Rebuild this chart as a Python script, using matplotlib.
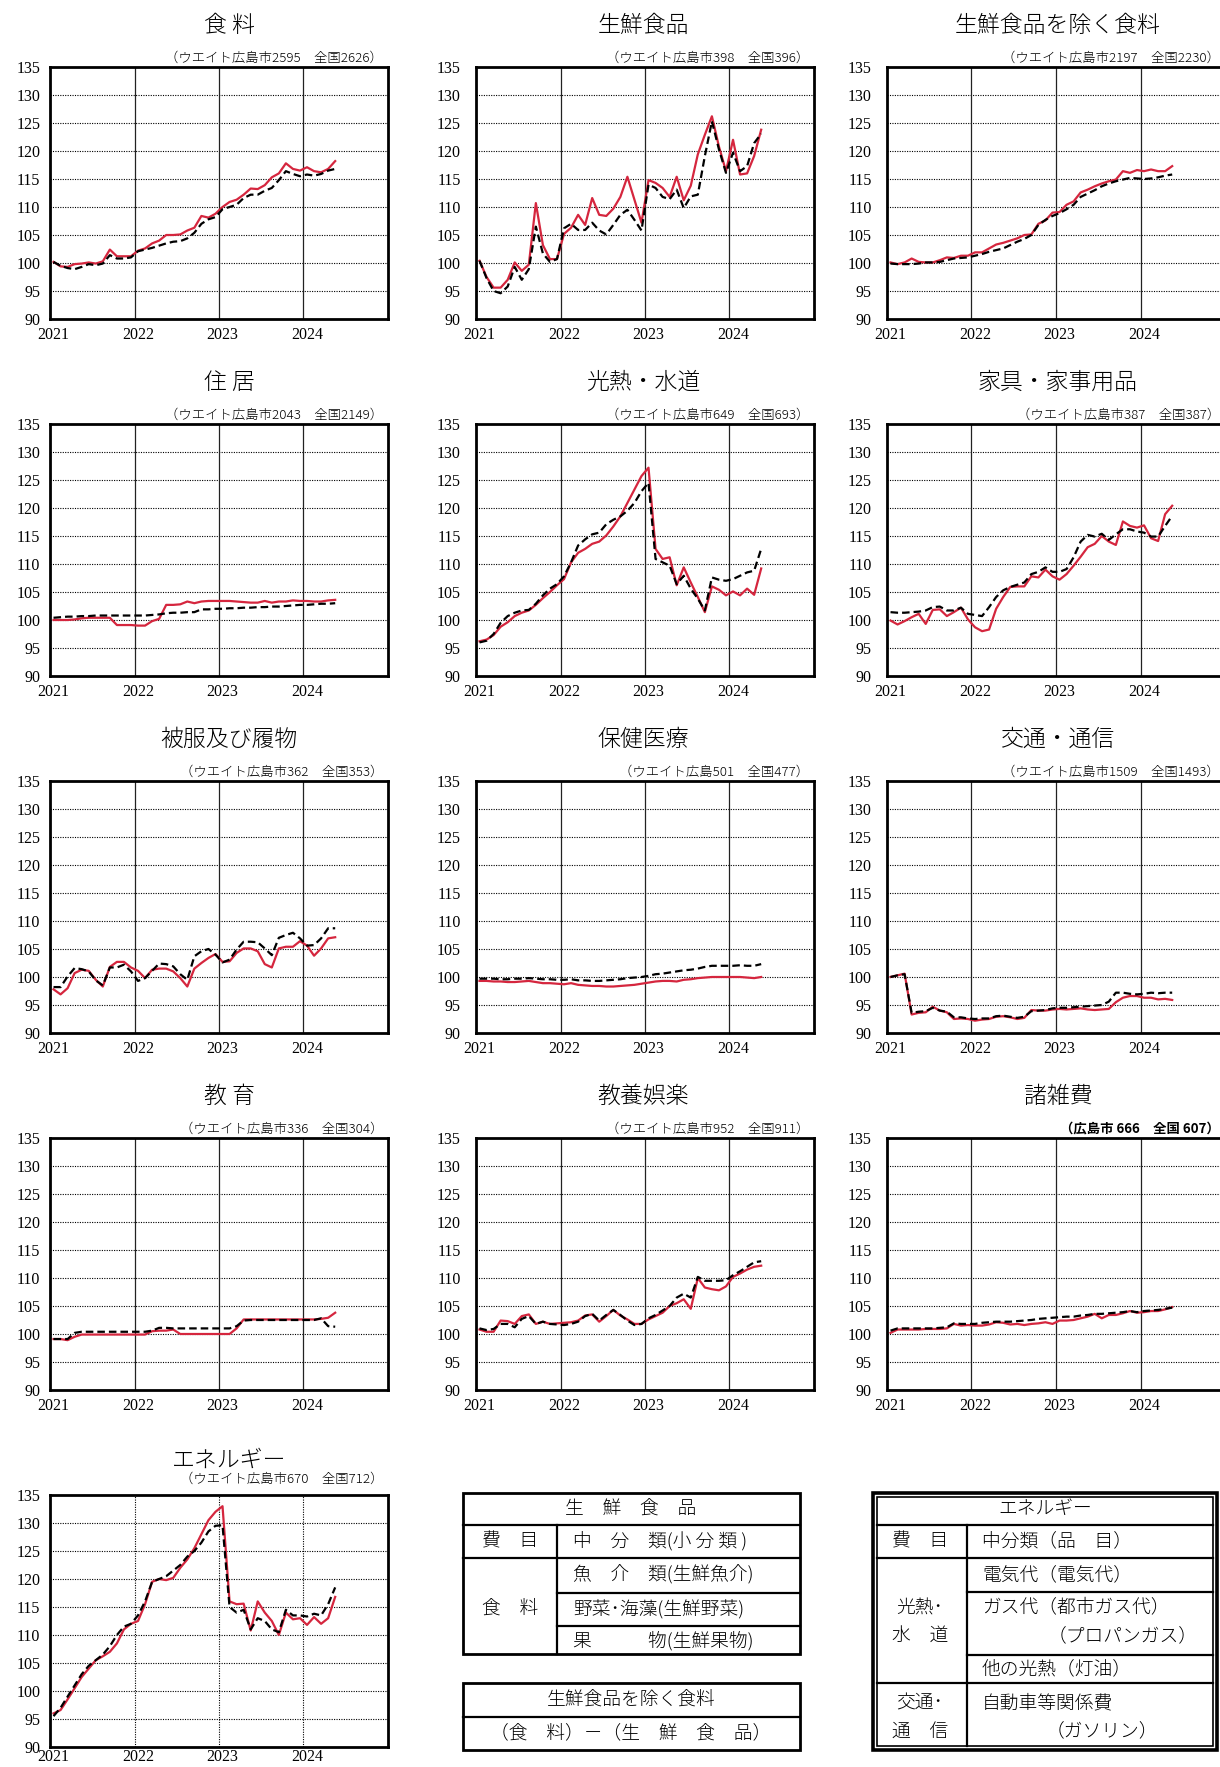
import matplotlib.pyplot as plt
from matplotlib.patches import Rectangle

# 2021年1月〜2024年5月 (41か月), 赤=広島市, 黒破線=全国
shokuryo_h = [100.2, 99.4, 99.3, 99.8, 99.9, 100.1, 99.9, 100.3, 102.4, 101.2,
              101.2, 101.2, 102.2, 102.6, 103.5, 104.0, 105.0, 105.0, 105.1, 105.8,
              106.3, 108.4, 108.1, 108.8, 110.0, 110.9, 111.3, 112.2, 113.3, 113.2,
              113.9, 115.3, 116.0, 117.8, 116.8, 116.5, 117.1, 116.4, 116.2, 116.8, 118.2]
shokuryo_z = [100.2, 99.5, 99.1, 98.9, 99.3, 99.8, 99.6, 99.9, 101.4, 100.8,
              100.8, 101.0, 102.1, 102.4, 102.7, 103.1, 103.5, 103.8, 103.9, 104.4,
              105.4, 107.0, 107.8, 108.2, 109.6, 110.0, 110.4, 111.6, 112.2, 112.2,
              112.9, 113.4, 114.8, 116.4, 115.9, 115.5, 115.8, 115.6, 115.9, 116.5, 116.8]
seisen_h = [100.4, 97.5, 95.6, 95.6, 97.0, 100.1, 98.6, 99.7, 110.7, 103.2,
            100.7, 100.7, 105.2, 106.3, 108.6, 106.8, 111.6, 108.6, 108.4, 109.7,
            111.8, 115.4, 111.3, 107.2, 114.8, 114.3, 113.4, 111.8, 115.4, 111.2,
            113.8, 119.4, 122.9, 126.2, 120.8, 116.4, 122.0, 115.8, 116.0, 119.1, 123.8]
seisen_z = [100.4, 97.3, 95.0, 94.6, 95.8, 99.3, 97.0, 98.9, 106.5, 101.7,
            100.2, 100.7, 106.2, 107.0, 105.9, 105.9, 107.2, 105.8, 105.1, 106.8,
            108.6, 109.5, 107.7, 105.8, 114.0, 113.4, 111.8, 111.4, 113.1, 109.8,
            111.9, 112.2, 119.1, 125.3, 120.3, 116.1, 119.7, 116.4, 117.3, 121.4, 123.1]
jogai_h = [100.1, 99.8, 100.1, 100.8, 100.2, 100.1, 100.1, 100.5, 101.0, 100.9,
           101.3, 101.3, 101.9, 101.9, 102.6, 103.3, 103.6, 104.0, 104.4, 105.0,
           105.1, 107.0, 107.6, 109.0, 109.1, 110.4, 111.0, 112.6, 113.1, 113.7,
           114.2, 114.6, 114.9, 116.4, 116.1, 116.6, 116.4, 116.7, 116.4, 116.4, 117.3]
jogai_z = [99.9, 99.8, 99.8, 99.8, 99.9, 100.1, 100.1, 100.2, 100.5, 100.8,
           100.9, 101.0, 101.3, 101.6, 102.0, 102.3, 102.6, 103.2, 103.8, 104.3,
           105.0, 106.8, 107.7, 108.4, 108.9, 109.6, 110.4, 111.8, 112.4, 113.0,
           113.7, 114.2, 114.6, 114.9, 115.2, 115.1, 115.0, 115.1, 115.3, 115.6, 115.8]
jukyo_h = [100.0, 100.0, 100.0, 100.1, 100.3, 100.4, 100.4, 100.4, 100.4, 99.1,
           99.1, 99.1, 99.0, 99.0, 99.8, 100.2, 102.7, 102.7, 102.8, 103.3,
           103.0, 103.3, 103.4, 103.4, 103.4, 103.4, 103.3, 103.2, 103.1, 103.1,
           103.4, 103.1, 103.3, 103.3, 103.5, 103.4, 103.4, 103.3, 103.3, 103.5, 103.6]
jukyo_z = [100.4, 100.5, 100.6, 100.6, 100.7, 100.7, 100.8, 100.8, 100.8, 100.8,
           100.8, 100.8, 100.8, 100.8, 100.9, 101.0, 101.2, 101.3, 101.3, 101.4,
           101.4, 101.9, 101.9, 102.0, 102.0, 102.1, 102.1, 102.2, 102.2, 102.3,
           102.3, 102.4, 102.4, 102.5, 102.6, 102.7, 102.7, 102.8, 102.9, 102.9, 103.0]
konetsu_h = [96.2, 96.5, 97.3, 98.8, 99.6, 100.7, 101.3, 101.7, 102.7, 103.9,
             105.0, 106.2, 107.3, 110.3, 112.0, 112.7, 113.6, 114.0, 115.1, 116.7,
             118.5, 120.9, 123.3, 125.7, 127.2, 112.7, 110.9, 111.2, 106.2, 109.4,
             106.7, 104.1, 101.4, 106.0, 105.4, 104.4, 105.1, 104.4, 105.6, 104.5, 109.2]
konetsu_z = [96.0, 96.3, 97.5, 99.5, 100.7, 101.3, 101.7, 101.8, 102.9, 104.4,
             105.6, 106.4, 107.8, 110.3, 113.3, 114.4, 115.3, 115.6, 117.1, 117.9,
             118.5, 119.5, 120.9, 123.0, 124.5, 110.9, 110.3, 109.7, 106.4, 107.9,
             105.6, 103.8, 101.7, 107.6, 107.2, 107.0, 107.3, 107.9, 108.5, 108.8, 112.7]
kagu_h = [99.9, 99.2, 99.8, 100.5, 101.1, 99.3, 101.8, 101.9, 100.7, 101.4,
          102.2, 100.1, 98.7, 98.0, 98.3, 102.0, 104.1, 105.9, 106.0, 106.0,
          107.8, 107.6, 109.0, 107.8, 107.2, 108.2, 109.7, 111.3, 113.0, 113.6,
          115.0, 114.0, 113.4, 117.6, 116.8, 116.5, 116.9, 114.6, 114.1, 118.9, 120.4]
kagu_z = [101.4, 101.3, 101.3, 101.4, 101.5, 101.7, 102.3, 102.4, 101.7, 101.7,
          102.2, 101.1, 100.9, 100.7, 102.3, 104.1, 105.3, 105.9, 106.3, 106.7,
          108.2, 108.6, 109.4, 108.6, 108.6, 109.1, 111.2, 114.0, 115.2, 114.9,
          115.4, 114.3, 115.3, 116.2, 116.2, 115.8, 115.6, 114.9, 114.9, 116.8, 118.6]
hifuku_h = [97.8, 96.9, 98.0, 100.7, 101.3, 101.1, 99.5, 98.3, 101.8, 102.7,
            102.7, 101.7, 101.1, 99.8, 101.3, 101.5, 101.5, 101.0, 99.8, 98.3,
            101.5, 102.5, 103.4, 104.1, 102.7, 102.8, 104.3, 105.1, 105.1, 104.6,
            102.3, 101.7, 105.1, 105.4, 105.4, 106.4, 105.6, 103.8, 105.1, 106.9, 107.1]
hifuku_z = [98.2, 98.2, 100.1, 101.6, 101.4, 101.0, 99.4, 98.5, 101.7, 101.7,
            102.2, 101.0, 99.3, 99.8, 101.1, 102.4, 102.3, 101.9, 100.5, 99.5,
            103.7, 104.6, 105.0, 104.0, 102.6, 103.1, 104.9, 106.3, 106.3, 106.2,
            105.1, 103.9, 107.0, 107.5, 107.9, 106.9, 105.6, 105.7, 106.9, 108.7, 108.7]
hoken_h = [99.3, 99.3, 99.2, 99.2, 99.1, 99.1, 99.2, 99.3, 99.1, 98.9,
           98.9, 98.8, 98.7, 98.9, 98.6, 98.5, 98.4, 98.4, 98.3, 98.3,
           98.4, 98.5, 98.6, 98.8, 99.0, 99.2, 99.3, 99.3, 99.2, 99.5,
           99.6, 99.8, 99.9, 100.0, 100.0, 100.0, 100.0, 100.0, 99.9, 99.8, 100.0]
hoken_z = [99.7, 99.7, 99.7, 99.6, 99.6, 99.7, 99.7, 99.8, 99.7, 99.6,
           99.6, 99.5, 99.5, 99.6, 99.4, 99.4, 99.3, 99.3, 99.4, 99.5,
           99.6, 99.8, 99.9, 100.0, 100.2, 100.5, 100.6, 100.8, 101.0, 101.2,
           101.3, 101.5, 101.8, 102.0, 102.0, 102.0, 102.0, 102.1, 102.0, 102.0, 102.3]
kotsu_h = [100.0, 100.3, 100.6, 93.3, 93.6, 93.7, 94.7, 94.0, 93.7, 92.5,
           92.6, 92.5, 92.2, 92.4, 92.5, 92.9, 93.0, 92.8, 92.5, 92.7,
           94.1, 94.0, 94.0, 94.2, 94.3, 94.2, 94.3, 94.4, 94.2, 94.1,
           94.2, 94.3, 95.5, 96.3, 96.6, 96.6, 96.3, 96.3, 96.0, 96.1, 95.9]
kotsu_z = [100.0, 100.3, 100.5, 93.6, 93.8, 93.9, 94.5, 94.0, 93.8, 92.8,
           92.8, 92.6, 92.5, 92.6, 92.6, 93.0, 93.1, 92.9, 92.7, 92.9,
           93.9, 94.0, 94.1, 94.4, 94.5, 94.5, 94.6, 94.7, 94.8, 94.9,
           95.0, 95.6, 97.2, 97.2, 97.0, 96.9, 97.0, 97.2, 97.1, 97.2, 97.2]
kyoiku_h = [99.1, 99.1, 98.9, 99.5, 99.9, 99.9, 99.9, 99.9, 99.9, 99.9,
            99.9, 99.9, 99.9, 99.9, 100.5, 100.6, 100.6, 100.8, 100.0, 100.0,
            100.0, 100.0, 100.0, 100.0, 100.0, 100.0, 101.0, 102.6, 102.6, 102.6,
            102.6, 102.6, 102.6, 102.6, 102.6, 102.6, 102.6, 102.6, 102.7, 102.9, 103.8]
kyoiku_z = [99.1, 99.1, 99.1, 100.2, 100.4, 100.4, 100.4, 100.4, 100.4, 100.4,
            100.4, 100.4, 100.4, 100.4, 100.6, 101.1, 101.1, 101.0, 101.0, 101.0,
            101.0, 101.0, 101.0, 101.0, 101.0, 101.0, 101.4, 102.4, 102.5, 102.5,
            102.5, 102.5, 102.5, 102.5, 102.5, 102.5, 102.5, 102.5, 102.8, 101.4, 101.3]
goraku_h = [100.8, 100.4, 100.4, 102.4, 102.3, 101.8, 103.2, 103.5, 101.8, 102.2,
            101.8, 101.9, 102.0, 102.1, 102.4, 103.3, 103.5, 102.2, 103.2, 104.3,
            103.3, 102.6, 101.8, 101.8, 102.6, 103.2, 103.8, 105.0, 105.5, 106.2,
            104.5, 110.0, 108.3, 108.0, 107.8, 108.5, 110.2, 110.8, 111.5, 112.0, 112.2]
goraku_z = [101.0, 100.7, 100.9, 101.8, 101.8, 101.2, 102.7, 103.2, 101.8, 102.2,
            101.8, 101.7, 101.6, 101.8, 102.2, 103.2, 103.6, 102.4, 103.4, 104.3,
            103.4, 102.4, 101.6, 101.8, 102.8, 103.4, 104.2, 105.0, 106.5, 107.2,
            106.5, 110.2, 109.5, 109.5, 109.5, 109.6, 110.5, 111.2, 112.0, 112.8, 113.0]
shozappi_h = [100.2, 100.8, 100.8, 100.8, 100.8, 100.9, 100.9, 100.9, 101.0, 101.8,
              101.5, 101.6, 101.5, 101.5, 101.7, 102.1, 102.0, 101.7, 101.8, 101.6,
              101.8, 101.9, 102.1, 101.8, 102.4, 102.4, 102.5, 102.8, 103.1, 103.6,
              102.8, 103.4, 103.4, 103.7, 104.1, 103.8, 103.9, 104.1, 104.1, 104.4, 104.8]
shozappi_z = [100.6, 101.0, 101.0, 101.0, 101.0, 101.0, 101.0, 101.1, 101.2, 101.9,
              101.8, 101.8, 101.8, 102.0, 102.1, 102.2, 102.2, 102.2, 102.3, 102.4,
              102.5, 102.7, 102.8, 102.9, 103.0, 103.1, 103.1, 103.3, 103.4, 103.6,
              103.6, 103.7, 103.8, 103.9, 104.1, 103.9, 104.1, 104.2, 104.3, 104.5, 104.7]
energy_h = [96.0, 96.6, 98.5, 100.5, 102.5, 104.0, 105.5, 106.2, 107.0, 108.5,
            111.0, 112.0, 112.5, 115.5, 119.5, 120.0, 119.8, 120.2, 122.0, 123.5,
            125.5, 128.0, 130.5, 132.0, 133.0, 116.0, 115.5, 115.6, 110.8, 116.0,
            114.0, 112.5, 110.0, 114.0, 112.8, 113.0, 111.8, 113.2, 112.0, 113.0, 116.8]
energy_z = [95.5, 97.0, 99.0, 101.0, 103.0, 104.5, 105.5, 106.5, 108.0, 110.0,
            111.5, 112.0, 113.5, 116.0, 119.5, 120.0, 120.5, 121.5, 122.5, 124.0,
            125.0, 126.5, 128.5, 129.5, 129.6, 115.0, 114.0, 114.5, 111.0, 113.0,
            112.5, 111.0, 110.5, 114.5, 113.5, 113.5, 113.3, 113.8, 113.5, 115.5, 118.5]

titles = ["食 料", "生鮮食品", "生鮮食品を除く食料",
          "住 居", "光熱・水道", "家具・家事用品",
          "被服及び履物", "保健医療", "交通・通信",
          "教 育", "教養娯楽", "諸雑費",
          "エネルギー"]
subtitles = ["（ウエイト広島市2595　全国2626）", "（ウエイト広島市398　全国396）",
             "（ウエイト広島市2197　全国2230）", "（ウエイト広島市2043　全国2149）",
             "（ウエイト広島市649　全国693）", "（ウエイト広島市387　全国387）",
             "（ウエイト広島市362　全国353）", "（ウエイト広島501　全国477）",
             "（ウエイト広島市1509　全国1493）", "（ウエイト広島市336　全国304）",
             "（ウエイト広島市952　全国911）", "（広島市 666　全国 607）",
             "（ウエイト広島市670　全国712）"]
hiroshima = [shokuryo_h, seisen_h, jogai_h, jukyo_h, konetsu_h, kagu_h, hifuku_h,
             hoken_h, kotsu_h, kyoiku_h, goraku_h, shozappi_h, energy_h]
zenkoku = [shokuryo_z, seisen_z, jogai_z, jukyo_z, konetsu_z, kagu_z, hifuku_z,
           hoken_z, kotsu_z, kyoiku_z, goraku_z, shozappi_z, energy_z]
years = ["2021", "2022", "2023", "2024"]

plt.rcParams['font.family'] = ['Noto Sans CJK JP', 'DejaVu Sans']
RED = '#d5263e'
NUMFONT = 'Liberation Serif'

W, H = 1220, 1767
fig = plt.figure(figsize=(W / 100, H / 100), dpi=100)

# ページ全体の座標 (px) 用
bg = fig.add_axes([0, 0, 1, 1])
bg.set_xlim(0, W)
bg.set_ylim(H, 0)
bg.axis('off')

col_x = [50, 476, 887]
row_y = [67, 424, 781, 1138, 1495]
PW, PH = 338, 252
title_cx = [229, 643, 1058]

for k in range(13):
    r, c = divmod(k, 3)
    x0, y0 = col_x[c], row_y[r]
    ax = fig.add_axes([x0 / W, 1 - (y0 + PH) / H, PW / W, PH / H])
    months = [i + 0.5 for i in range(len(hiroshima[k]))]
    ax.plot(months, hiroshima[k], color=RED, lw=1.6, zorder=3)
    ax.plot(months, zenkoku[k], color='black', lw=1.6, ls=(0, (3.4, 1.8)), zorder=4)
    ax.set_xlim(0, 48)
    ax.set_ylim(90, 135)
    for v in range(95, 135, 5):
        ax.axhline(v, color='black', lw=0.8, ls=(0, (1, 1.2)), zorder=1)
    for m in (12, 24, 36):
        if r < 4:
            ax.axvline(m, color='#222222', lw=0.9, zorder=1)
        else:
            ax.axvline(m, color='black', lw=0.8, ls=(0, (1, 1.2)), zorder=1)
    for s in ax.spines.values():
        s.set_linewidth(2.0)
    ax.set_yticks(range(90, 136, 5))
    ax.set_yticklabels([str(v) for v in range(90, 136, 5)], fontfamily=NUMFONT, fontsize=11.5)
    ax.set_xticks([0.5, 12.5, 24.5, 36.5])
    ax.set_xticklabels(years, fontfamily=NUMFONT, fontsize=11.5)
    ax.tick_params(axis='both', length=0)
    ax.tick_params(axis='y', pad=7 if c == 0 else 11)
    ax.tick_params(axis='x', pad=6 if r < 4 else 1.5)

    if r < 4:
        ty, sy = y0 - 42, y0 - 9
    else:
        ty, sy = y0 - 35, y0 - 16
    bg.text(title_cx[c], ty, titles[k], fontsize=16.5, fontweight='light',
            ha='center', va='center')
    bg.text(x0 + PW - 5, sy, subtitles[k], fontsize=9.6, ha='right', va='center',
            fontweight='bold' if k == 11 else 'light')

# 表 (生鮮食品)
def box(x1, y1, x2, y2, lw=2.0):
    bg.add_patch(Rectangle((x1, y1), x2 - x1, y2 - y1, fill=False, lw=lw, ec='black'))

def hline(x1, x2, y, lw=1.6):
    bg.plot([x1, x2], [y, y], color='black', lw=lw)

def vline(x, y1, y2, lw=1.6):
    bg.plot([x, x], [y1, y2], color='black', lw=lw)

def cell(x, y, s, ha='center'):
    bg.text(x, y, s, fontsize=13.5, fontweight='light', ha=ha, va='center')

box(463, 1493, 800, 1654)
hline(463, 800, 1525)
hline(463, 800, 1558)
hline(557, 800, 1593)
hline(557, 800, 1626)
vline(557, 1525, 1654)
cell(631, 1509, "生　鮮　食　品")
cell(510, 1541, "費　目")
cell(510, 1609, "食　料")
cell(573, 1541, "中　分　類(小 分 類 )", ha='left')
cell(573, 1575, "魚　介　類(生鮮魚介)", ha='left')
cell(573, 1610, "野菜･海藻(生鮮野菜)", ha='left')
cell(573, 1641, "果　　　物(生鮮果物)", ha='left')

box(463, 1683, 800, 1750)
hline(463, 800, 1717)
cell(631, 1700, "生鮮食品を除く食料")
cell(631, 1733, "（食　料）－（生　鮮　食　品）")

# 表 (エネルギー)
box(873, 1493, 1217, 1750, lw=2.6)
box(877, 1497, 1213, 1746, lw=1.2)
hline(877, 1213, 1525)
hline(877, 1213, 1558)
hline(967, 1213, 1592)
hline(967, 1213, 1655)
hline(877, 1213, 1683)
vline(967, 1525, 1746)
cell(1045, 1509, "エネルギー")
cell(920, 1541, "費　目")
cell(920, 1609, "光熱･")
cell(920, 1637, "水　道")
cell(920, 1703, "交通･")
cell(920, 1732, "通　信")
cell(982, 1541, "中分類（品　目）", ha='left')
cell(982, 1575, "電気代（電気代）", ha='left')
cell(982, 1607, "ガス代（都市ガス代）", ha='left')
cell(1048, 1636, "（プロパンガス）", ha='left')
cell(982, 1669, "他の光熱（灯油）", ha='left')
cell(982, 1703, "自動車等関係費", ha='left')
cell(1046, 1731, "（ガソリン）", ha='left')

fig.savefig('out.png', dpi=100)
